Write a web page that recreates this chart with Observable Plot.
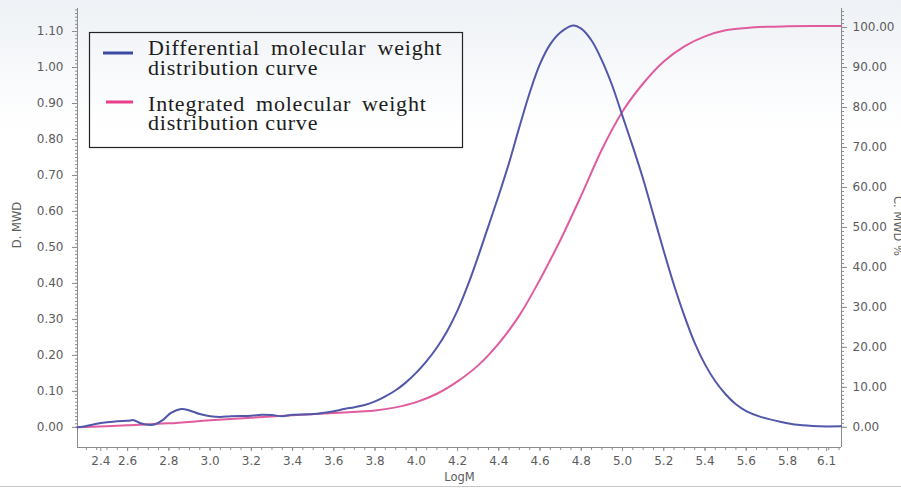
<!DOCTYPE html>
<html>
<head>
<meta charset="utf-8">
<script src="https://cdn.jsdelivr.net/npm/d3@7"></script>
<script src="https://cdn.jsdelivr.net/npm/@observablehq/plot@0.6"></script>
<style>
  html, body { margin: 0; padding: 0; }
  body { width: 901px; height: 488px; overflow: hidden;
         background: linear-gradient(#eef1f5 0px, #f7f9fb 70px, #ffffff 130px, #ffffff 100%); }
  #chart { position: relative; width: 901px; height: 488px; }
  #chart svg { display: block; }
</style>
</head>
<body>
<div id="chart"></div>
<script>
// ---- Data ----
const diffLogM = [2.357, 2.40, 2.45, 2.50, 2.55, 2.60, 2.63, 2.66, 2.70, 2.73, 2.77, 2.81, 2.86, 2.90, 2.95, 3.00, 3.05, 3.10, 3.20, 3.25, 3.30, 3.35, 3.40, 3.50, 3.60, 3.65, 3.70, 3.75, 3.80, 3.85, 3.90, 3.95, 4.00, 4.05, 4.10, 4.15, 4.20, 4.25, 4.30, 4.35, 4.40, 4.45, 4.50, 4.55, 4.60, 4.65, 4.70, 4.76, 4.80, 4.85, 4.90, 4.95, 5.00, 5.05, 5.10, 5.15, 5.20, 5.25, 5.30, 5.35, 5.40, 5.45, 5.50, 5.55, 5.60, 5.67, 5.77, 5.85, 5.95, 6.06];
const diffMWD  = [0.000, 0.004, 0.010, 0.014, 0.017, 0.018, 0.020, 0.012, 0.007, 0.008, 0.020, 0.040, 0.051, 0.047, 0.037, 0.031, 0.029, 0.031, 0.032, 0.035, 0.034, 0.031, 0.035, 0.037, 0.045, 0.051, 0.056, 0.062, 0.072, 0.086, 0.103, 0.125, 0.152, 0.184, 0.222, 0.268, 0.325, 0.395, 0.475, 0.560, 0.645, 0.735, 0.835, 0.930, 1.010, 1.065, 1.098, 1.117, 1.108, 1.075, 1.020, 0.950, 0.865, 0.780, 0.690, 0.590, 0.490, 0.395, 0.310, 0.235, 0.175, 0.128, 0.092, 0.064, 0.045, 0.029, 0.015, 0.007, 0.003, 0.003];

const cumLogM = [2.357, 2.6, 2.8, 3.0, 3.2, 3.4, 3.6, 3.8, 3.9, 4.0, 4.1, 4.2, 4.3, 4.4, 4.5, 4.6, 4.7, 4.8, 4.9, 5.0, 5.1, 5.2, 5.3, 5.4, 5.5, 5.6, 5.7, 5.8, 6.06];
const cumPct  = [0, 0.5, 1.0, 1.75, 2.4, 3.0, 3.6, 4.2, 5.0, 6.3, 8.4, 11.5, 15.5, 21, 28, 37, 47, 58, 69.5, 79, 86, 91.5, 95.3, 97.8, 99.3, 99.9, 100.2, 100.3, 100.4];

const xTickPos    = [2.47, 2.6, 2.8, 3.0, 3.2, 3.4, 3.6, 3.8, 4.0, 4.2, 4.4, 4.6, 4.8, 5.0, 5.2, 5.4, 5.6, 5.8, 5.99];
const xTickLabels = ["2.4", "2.6", "2.8", "3.0", "3.2", "3.4", "3.6", "3.8", "4.0", "4.2", "4.4", "4.6", "4.8", "5.0", "5.2", "5.4", "5.6", "5.8", "6.1"];
const leftTicks   = [0, 0.1, 0.2, 0.3, 0.4, 0.5, 0.6, 0.7, 0.8, 0.9, 1.0, 1.1];
const rightTicks  = [0, 10, 20, 30, 40, 50, 60, 70, 80, 90, 100];

const xLabel = "LogM", yLeftLabel = "D. MWD", yRightLabel = "C. MWD %";
const legendEntries = [
  ["Differential molecular weight", "distribution curve"],
  ["Integrated molecular weight", "distribution curve"]
];

// ---- Scales ----
const X0 = 2.357, X1 = 6.062;
const Y0 = -0.056, Y1 = 1.164;
const RIGHT = 90; // right-axis units per left-axis unit (100 % ↔ 1.111)

const diffData = diffLogM.map((x, i) => ({x, y: diffMWD[i]}));
const cumData  = cumLogM.map((x, i) => ({x, y: cumPct[i] / RIGHT}));

const axisColor = "#8c8c8c";
const textColor = "#5c5c5c";
const blue = "#5157a9", pink = "#e05c9f";

const plot = Plot.plot({
  width: 901, height: 488,
  marginLeft: 77, marginRight: 60, marginTop: 8, marginBottom: 41,
  x: {domain: [X0, X1]},
  y: {domain: [Y0, Y1]},
  style: {background: "transparent", fontFamily: "DejaVu Sans, sans-serif", fontSize: "12px", color: textColor},
  marks: [
    // minor ticks
    Plot.axisY({ticks: d3.range(0, 1.1601, 0.01), tickSize: 2, tickFormat: () => "", label: null, stroke: axisColor}),
    Plot.axisY({anchor: "right", ticks: d3.range(0, 104.01, 1).map(d => d / RIGHT), tickSize: 2, tickFormat: () => "", label: null, stroke: axisColor}),
    Plot.axisX({ticks: d3.range(2.40, 6.06, 0.05), tickSize: 3, tickFormat: () => "", label: null, stroke: axisColor}),
    // major ticks
    Plot.axisY({ticks: leftTicks, tickSize: 5, tickPadding: 9, tickFormat: d => d.toFixed(2), label: null, stroke: axisColor, fill: textColor}),
    Plot.axisY({anchor: "right", ticks: rightTicks.map(d => d / RIGHT), tickSize: 5, tickPadding: 6, tickFormat: d => (d * RIGHT).toFixed(2), label: null, stroke: axisColor, fill: textColor}),
    Plot.axisX({ticks: xTickPos, tickSize: 4, tickPadding: 5, tickFormat: d => xTickLabels[xTickPos.indexOf(d)], label: null, stroke: axisColor, fill: textColor}),
    // axis lines
    Plot.ruleX([X0, X1], {y1: Y0, y2: Y1, stroke: axisColor}),
    Plot.ruleY([Y0], {x1: X0, x2: X1, stroke: axisColor}),
    // x axis title
    Plot.text([xLabel], {frameAnchor: "bottom", dy: 33, fill: textColor, fontSize: 11.5}),
    // curves
    Plot.line(cumData,  {x: "x", y: "y", stroke: pink, strokeWidth: 2, curve: "catmull-rom"}),
    Plot.line(diffData, {x: "x", y: "y", stroke: blue, strokeWidth: 2, curve: "catmull-rom"})
  ]
});
document.getElementById("chart").appendChild(plot);

const svg = d3.select(plot);

// ---- y axis titles ----
svg.append("text")
  .attr("transform", "translate(21,225) rotate(-90)")
  .attr("text-anchor", "middle")
  .attr("fill", textColor)
  .style("font-family", "DejaVu Sans, sans-serif").style("font-size", "11.5px")
  .text(yLeftLabel);
svg.append("text")
  .attr("transform", "translate(894,226) rotate(90)")
  .attr("text-anchor", "middle")
  .attr("fill", textColor)
  .style("font-family", "DejaVu Sans, sans-serif").style("font-size", "11.5px")
  .text(yRightLabel);

// ---- Legend (inside the plot, top-left) ----
const lg = svg.append("g").attr("text-anchor", "start");
lg.append("rect").attr("x", 89.5).attr("y", 32.5).attr("width", 373).attr("height", 115)
  .attr("fill", "none").attr("stroke", "#222").attr("stroke-width", 1.2);
lg.append("line").attr("x1", 103).attr("x2", 133).attr("y1", 53).attr("y2", 53)
  .attr("stroke", "#3d4aa3").attr("stroke-width", 3);
lg.append("line").attr("x1", 106).attr("x2", 133).attr("y1", 102).attr("y2", 102)
  .attr("stroke", "#e8408a").attr("stroke-width", 3);
const entryLayout = [
  {y: [55, 75], ws: [5, 0]},
  {y: [111, 130], ws: [4.5, 0]}
];
legendEntries.forEach((lines, k) => {
  const t = lg.append("text")
    .attr("text-anchor", "start")
    .attr("fill", "#1c1c1c")
    .style("font-family", "'Liberation Serif', 'DejaVu Serif', serif")
    .style("font-size", "22px")
    .style("letter-spacing", "0.8px");
  lines.forEach((s, j) => {
    t.append("tspan")
      .attr("x", 148).attr("y", entryLayout[k].y[j])
      .style("word-spacing", entryLayout[k].ws[j] + "px")
      .text(s);
  });
});

// bottom separator line
svg.append("line").attr("x1", 0).attr("x2", 901).attr("y1", 486.5).attr("y2", 486.5)
  .attr("stroke", "#c8c8c8").attr("stroke-width", 1);
</script>
</body>
</html>
